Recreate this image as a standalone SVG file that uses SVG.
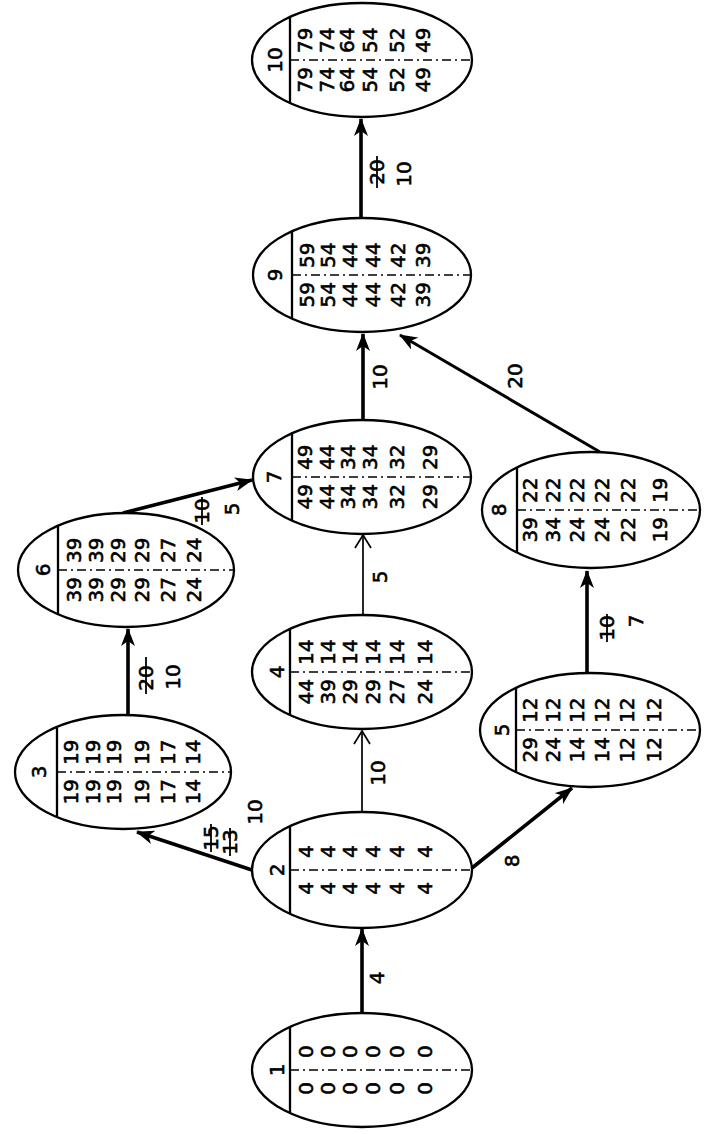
<svg xmlns="http://www.w3.org/2000/svg" width="706" height="1134" viewBox="0 0 706 1134">
<style>
.node ellipse{fill:#fff;stroke:#000;stroke-width:2.3}
.div{stroke:#000;stroke-width:2.3}
.dash{stroke:#000;stroke-width:1.3;stroke-dasharray:9 4 2 4}
text{font-family:"DejaVu Sans",sans-serif;font-size:20px;fill:#000;stroke:#000;stroke-width:0.6}
.m{text-anchor:middle}
.lo{text-anchor:end}
.hi{text-anchor:start}
.thick{stroke:#000;stroke-width:3.6;fill:none}
.mid{stroke:#000;stroke-width:3;fill:none}
.thin{stroke:#000;stroke-width:1.7;fill:none}
.strike{stroke:#000;stroke-width:1.8}
</style>
<defs>
<marker id="fa" markerUnits="userSpaceOnUse" markerWidth="18" markerHeight="14" refX="17" refY="7" orient="auto">
<path d="M0,0 L18,7 L0,14 L5,7 z" fill="#000"/>
</marker>
<marker id="oa" markerUnits="userSpaceOnUse" markerWidth="15" markerHeight="18" refX="14" refY="9" orient="auto">
<path d="M1,1 L14,9 L1,17" fill="none" stroke="#000" stroke-width="1.7"/>
</marker>
</defs>
<rect width="706" height="1134" fill="#fff"/>

<g id="connectors">
<line class="thick" x1="362" y1="1012" x2="362" y2="929" marker-end="url(#fa)"/>
<line class="thin" x1="362" y1="812" x2="362" y2="731" marker-end="url(#oa)"/>
<line class="thin" x1="363" y1="615" x2="363" y2="535" marker-end="url(#oa)"/>
<line class="thick" x1="363" y1="420" x2="363" y2="334" marker-end="url(#fa)"/>
<line class="thick" x1="361" y1="218" x2="361" y2="119" marker-end="url(#fa)"/>
<line class="thick" x1="252" y1="870" x2="137" y2="832" marker-end="url(#fa)"/>
<line class="thick" x1="128" y1="717" x2="128" y2="629" marker-end="url(#fa)"/>
<line class="thick" x1="123" y1="513" x2="252" y2="480" marker-end="url(#fa)"/>
<line class="thick" x1="472" y1="868" x2="572" y2="788" marker-end="url(#fa)"/>
<line class="thick" x1="587" y1="673" x2="587" y2="571" marker-end="url(#fa)"/>
<line class="mid" x1="600" y1="452" x2="400" y2="335" marker-end="url(#fa)"/>

<text class="m" transform="translate(377,978) rotate(-90)" y="7">4</text>
<text class="m" transform="translate(378,773) rotate(-90)" y="7">10</text>
<text class="m" transform="translate(380,577) rotate(-90)" y="7">5</text>
<text class="m" transform="translate(380,377) rotate(-90)" y="7">10</text>
<text class="m" transform="translate(377,172) rotate(-90)" y="7">20</text>
<line class="strike" x1="377" y1="156" x2="377" y2="188"/>
<text class="m" transform="translate(404,174) rotate(-90)" y="7">10</text>
<text class="m" transform="translate(211,838) rotate(-90)" y="7">15</text>
<line class="strike" x1="211" y1="824" x2="211" y2="852"/>
<text class="m" transform="translate(230,842) rotate(-90)" y="7">13</text>
<line class="strike" x1="230" y1="828" x2="230" y2="856"/>
<text class="m" transform="translate(255,812) rotate(-90)" y="7">10</text>
<text class="m" transform="translate(146,678) rotate(-90)" y="7">20</text>
<line class="strike" x1="146" y1="657" x2="146" y2="694"/>
<text class="m" transform="translate(173,677) rotate(-90)" y="7">10</text>
<text class="m" transform="translate(202,511) rotate(-90)" y="7">10</text>
<line class="strike" x1="202" y1="497" x2="202" y2="525"/>
<text class="m" transform="translate(232,509) rotate(-90)" y="7">5</text>
<text class="m" transform="translate(512,861) rotate(-90)" y="7">8</text>
<text class="m" transform="translate(607,628) rotate(-90)" y="7">10</text>
<line class="strike" x1="607" y1="614" x2="607" y2="642"/>
<text class="m" transform="translate(636,621) rotate(-90)" y="7">7</text>
<text class="m" transform="translate(515,376) rotate(-90)" y="7">20</text>
</g>

<g id="node-1" class="node" transform="translate(252,1070)">
<ellipse cx="110" cy="0" rx="110" ry="57"/>
<line class="div" x1="38" y1="-43" x2="38" y2="43"/>
<line class="dash" x1="38" y1="0" x2="220" y2="0"/>
<text class="m" transform="translate(25,0) rotate(-90)" y="7">1</text>
<g transform="translate(54,0) rotate(-90)"><text class="lo" x="-12" y="7">0</text><text class="hi" x="12" y="7">0</text></g>
<g transform="translate(76,0) rotate(-90)"><text class="lo" x="-12" y="7">0</text><text class="hi" x="12" y="7">0</text></g>
<g transform="translate(98,0) rotate(-90)"><text class="lo" x="-12" y="7">0</text><text class="hi" x="12" y="7">0</text></g>
<g transform="translate(121,0) rotate(-90)"><text class="lo" x="-12" y="7">0</text><text class="hi" x="12" y="7">0</text></g>
<g transform="translate(145,0) rotate(-90)"><text class="lo" x="-12" y="7">0</text><text class="hi" x="12" y="7">0</text></g>
<g transform="translate(173,0) rotate(-90)"><text class="lo" x="-12" y="7">0</text><text class="hi" x="12" y="7">0</text></g>
</g>

<g id="node-2" class="node" transform="translate(252,870)">
<ellipse cx="110" cy="0" rx="110" ry="58"/>
<line class="div" x1="38" y1="-43" x2="38" y2="43"/>
<line class="dash" x1="38" y1="0" x2="220" y2="0"/>
<text class="m" transform="translate(25,0) rotate(-90)" y="7">2</text>
<g transform="translate(54,0) rotate(-90)"><text class="lo" x="-12" y="7">4</text><text class="hi" x="12" y="7">4</text></g>
<g transform="translate(76,0) rotate(-90)"><text class="lo" x="-12" y="7">4</text><text class="hi" x="12" y="7">4</text></g>
<g transform="translate(98,0) rotate(-90)"><text class="lo" x="-12" y="7">4</text><text class="hi" x="12" y="7">4</text></g>
<g transform="translate(121,0) rotate(-90)"><text class="lo" x="-12" y="7">4</text><text class="hi" x="12" y="7">4</text></g>
<g transform="translate(145,0) rotate(-90)"><text class="lo" x="-12" y="7">4</text><text class="hi" x="12" y="7">4</text></g>
<g transform="translate(173,0) rotate(-90)"><text class="lo" x="-12" y="7">4</text><text class="hi" x="12" y="7">4</text></g>
</g>

<g id="node-3" class="node" transform="translate(15,772)">
<ellipse cx="108" cy="0" rx="108" ry="57"/>
<line class="div" x1="42" y1="-44" x2="42" y2="44"/>
<line class="dash" x1="42" y1="0" x2="216" y2="0"/>
<text class="m" transform="translate(24,0) rotate(-90)" y="7">3</text>
<g transform="translate(56,0) rotate(-90)"><text class="lo" x="-7" y="7">19</text><text class="hi" x="7" y="7">19</text></g>
<g transform="translate(78,0) rotate(-90)"><text class="lo" x="-7" y="7">19</text><text class="hi" x="7" y="7">19</text></g>
<g transform="translate(99,0) rotate(-90)"><text class="lo" x="-7" y="7">19</text><text class="hi" x="7" y="7">19</text></g>
<g transform="translate(127,0) rotate(-90)"><text class="lo" x="-7" y="7">19</text><text class="hi" x="7" y="7">19</text></g>
<g transform="translate(153,0) rotate(-90)"><text class="lo" x="-7" y="7">17</text><text class="hi" x="7" y="7">17</text></g>
<g transform="translate(178,0) rotate(-90)"><text class="lo" x="-7" y="7">14</text><text class="hi" x="7" y="7">14</text></g>
</g>

<g id="node-4" class="node" transform="translate(252,672)">
<ellipse cx="110" cy="0" rx="110" ry="57"/>
<line class="div" x1="38" y1="-43" x2="38" y2="43"/>
<line class="dash" x1="38" y1="0" x2="220" y2="0"/>
<text class="m" transform="translate(25,0) rotate(-90)" y="7">4</text>
<g transform="translate(54,0) rotate(-90)"><text class="lo" x="-7" y="7">44</text><text class="hi" x="7" y="7">14</text></g>
<g transform="translate(76,0) rotate(-90)"><text class="lo" x="-7" y="7">39</text><text class="hi" x="7" y="7">14</text></g>
<g transform="translate(98,0) rotate(-90)"><text class="lo" x="-7" y="7">29</text><text class="hi" x="7" y="7">14</text></g>
<g transform="translate(121,0) rotate(-90)"><text class="lo" x="-7" y="7">29</text><text class="hi" x="7" y="7">14</text></g>
<g transform="translate(145,0) rotate(-90)"><text class="lo" x="-7" y="7">27</text><text class="hi" x="7" y="7">14</text></g>
<g transform="translate(173,0) rotate(-90)"><text class="lo" x="-7" y="7">24</text><text class="hi" x="7" y="7">14</text></g>
</g>

<g id="node-5" class="node" transform="translate(480,730)">
<ellipse cx="110" cy="0" rx="110" ry="57"/>
<line class="div" x1="36" y1="-43" x2="36" y2="43"/>
<line class="dash" x1="36" y1="0" x2="220" y2="0"/>
<text class="m" transform="translate(22,0) rotate(-90)" y="7">5</text>
<g transform="translate(50,0) rotate(-90)"><text class="lo" x="-7" y="7">29</text><text class="hi" x="7" y="7">12</text></g>
<g transform="translate(73,0) rotate(-90)"><text class="lo" x="-7" y="7">24</text><text class="hi" x="7" y="7">12</text></g>
<g transform="translate(97,0) rotate(-90)"><text class="lo" x="-7" y="7">14</text><text class="hi" x="7" y="7">12</text></g>
<g transform="translate(122,0) rotate(-90)"><text class="lo" x="-7" y="7">14</text><text class="hi" x="7" y="7">12</text></g>
<g transform="translate(147,0) rotate(-90)"><text class="lo" x="-7" y="7">12</text><text class="hi" x="7" y="7">12</text></g>
<g transform="translate(174,0) rotate(-90)"><text class="lo" x="-7" y="7">12</text><text class="hi" x="7" y="7">12</text></g>
</g>

<g id="node-6" class="node" transform="translate(18,570)">
<ellipse cx="108" cy="0" rx="108" ry="57"/>
<line class="div" x1="40" y1="-44" x2="40" y2="44"/>
<line class="dash" x1="40" y1="0" x2="216" y2="0"/>
<text class="m" transform="translate(25,0) rotate(-90)" y="7">6</text>
<g transform="translate(56,0) rotate(-90)"><text class="lo" x="-7" y="7">39</text><text class="hi" x="7" y="7">39</text></g>
<g transform="translate(78,0) rotate(-90)"><text class="lo" x="-7" y="7">39</text><text class="hi" x="7" y="7">39</text></g>
<g transform="translate(100,0) rotate(-90)"><text class="lo" x="-7" y="7">29</text><text class="hi" x="7" y="7">29</text></g>
<g transform="translate(124,0) rotate(-90)"><text class="lo" x="-7" y="7">29</text><text class="hi" x="7" y="7">29</text></g>
<g transform="translate(150,0) rotate(-90)"><text class="lo" x="-7" y="7">27</text><text class="hi" x="7" y="7">27</text></g>
<g transform="translate(176,0) rotate(-90)"><text class="lo" x="-7" y="7">24</text><text class="hi" x="7" y="7">24</text></g>
</g>

<g id="node-7" class="node" transform="translate(253,477)">
<ellipse cx="109" cy="0" rx="109" ry="57"/>
<line class="div" x1="39" y1="-43" x2="39" y2="43"/>
<line class="dash" x1="39" y1="0" x2="218" y2="0"/>
<text class="m" transform="translate(21,0) rotate(-90)" y="7">7</text>
<g transform="translate(52,0) rotate(-90)"><text class="lo" x="-7" y="7">49</text><text class="hi" x="7" y="7">49</text></g>
<g transform="translate(74,0) rotate(-90)"><text class="lo" x="-7" y="7">44</text><text class="hi" x="7" y="7">44</text></g>
<g transform="translate(95,0) rotate(-90)"><text class="lo" x="-7" y="7">34</text><text class="hi" x="7" y="7">34</text></g>
<g transform="translate(117,0) rotate(-90)"><text class="lo" x="-7" y="7">34</text><text class="hi" x="7" y="7">34</text></g>
<g transform="translate(144,0) rotate(-90)"><text class="lo" x="-7" y="7">32</text><text class="hi" x="7" y="7">32</text></g>
<g transform="translate(177,0) rotate(-90)"><text class="lo" x="-7" y="7">29</text><text class="hi" x="7" y="7">29</text></g>
</g>

<g id="node-8" class="node" transform="translate(482,510)">
<ellipse cx="109" cy="0" rx="109" ry="58"/>
<line class="div" x1="35" y1="-43" x2="35" y2="43"/>
<line class="dash" x1="35" y1="0" x2="218" y2="0"/>
<text class="m" transform="translate(17,0) rotate(-90)" y="7">8</text>
<g transform="translate(48,0) rotate(-90)"><text class="lo" x="-7" y="7">39</text><text class="hi" x="7" y="7">22</text></g>
<g transform="translate(71,0) rotate(-90)"><text class="lo" x="-7" y="7">34</text><text class="hi" x="7" y="7">22</text></g>
<g transform="translate(95,0) rotate(-90)"><text class="lo" x="-7" y="7">24</text><text class="hi" x="7" y="7">22</text></g>
<g transform="translate(120,0) rotate(-90)"><text class="lo" x="-7" y="7">24</text><text class="hi" x="7" y="7">22</text></g>
<g transform="translate(146,0) rotate(-90)"><text class="lo" x="-7" y="7">22</text><text class="hi" x="7" y="7">22</text></g>
<g transform="translate(178,0) rotate(-90)"><text class="lo" x="-7" y="7">19</text><text class="hi" x="7" y="7">19</text></g>
</g>

<g id="node-9" class="node" transform="translate(253,275)">
<ellipse cx="109" cy="0" rx="109" ry="57"/>
<line class="div" x1="39" y1="-43" x2="39" y2="43"/>
<line class="dash" x1="39" y1="0" x2="218" y2="0"/>
<text class="m" transform="translate(22,0) rotate(-90)" y="7">9</text>
<g transform="translate(54,0) rotate(-90)"><text class="lo" x="-7" y="7">59</text><text class="hi" x="7" y="7">59</text></g>
<g transform="translate(75,0) rotate(-90)"><text class="lo" x="-7" y="7">54</text><text class="hi" x="7" y="7">54</text></g>
<g transform="translate(97,0) rotate(-90)"><text class="lo" x="-7" y="7">44</text><text class="hi" x="7" y="7">44</text></g>
<g transform="translate(120,0) rotate(-90)"><text class="lo" x="-7" y="7">44</text><text class="hi" x="7" y="7">44</text></g>
<g transform="translate(145,0) rotate(-90)"><text class="lo" x="-7" y="7">42</text><text class="hi" x="7" y="7">42</text></g>
<g transform="translate(170,0) rotate(-90)"><text class="lo" x="-7" y="7">39</text><text class="hi" x="7" y="7">39</text></g>
</g>

<g id="node-10" class="node" transform="translate(252,60)">
<ellipse cx="110" cy="0" rx="110" ry="57"/>
<line class="div" x1="38" y1="-43" x2="38" y2="43"/>
<line class="dash" x1="38" y1="0" x2="220" y2="0"/>
<text class="m" transform="translate(23,0) rotate(-90)" y="7">10</text>
<g transform="translate(53,0) rotate(-90)"><text class="lo" x="-7" y="7">79</text><text class="hi" x="7" y="7">79</text></g>
<g transform="translate(75,0) rotate(-90)"><text class="lo" x="-7" y="7">74</text><text class="hi" x="7" y="7">74</text></g>
<g transform="translate(95,0) rotate(-90)"><text class="lo" x="-7" y="7">64</text><text class="hi" x="7" y="7">64</text></g>
<g transform="translate(118,0) rotate(-90)"><text class="lo" x="-7" y="7">54</text><text class="hi" x="7" y="7">54</text></g>
<g transform="translate(145,0) rotate(-90)"><text class="lo" x="-7" y="7">52</text><text class="hi" x="7" y="7">52</text></g>
<g transform="translate(171,0) rotate(-90)"><text class="lo" x="-7" y="7">49</text><text class="hi" x="7" y="7">49</text></g>
</g>
</svg>
